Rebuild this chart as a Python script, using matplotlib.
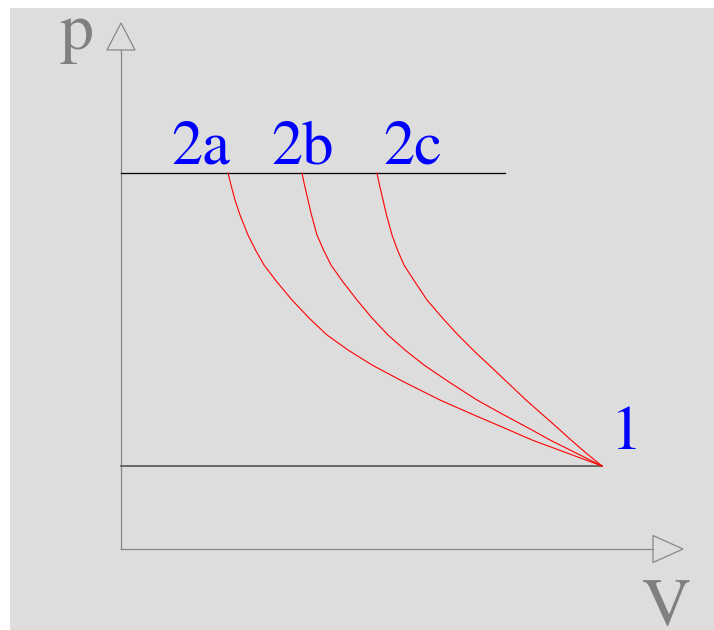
import matplotlib
matplotlib.use("Agg")
import matplotlib.pyplot as plt
from matplotlib.patches import Rectangle, Polygon

# Data (V, p in chart units; origin at the axes corner)
p_levels = [376, 364, 349, 334, 314, 299, 284, 267, 249, 231, 214, 199, 184, 167, 149, 134, 119, 109, 96, 83]
V_a = [107, 110, 114, 119, 127, 134.5, 143, 156, 171, 188, 206, 227, 251, 283, 319, 353, 388, 411, 446, 481]
V_b = [181, 183.5, 187, 190.5, 196, 202.5, 210, 222, 236, 251, 267, 284, 303, 328, 356, 383, 411, 429, 455, 481]
V_c = [256, 258.5, 262, 265.5, 271, 276.5, 283, 294, 306, 321.5, 337, 352, 368, 386, 405, 422, 439, 450, 465, 481]
p_high = 376
p_low = 83
V_high_end = 384
V_low_end = 481
state_labels = ["2a", "2b", "2c", "1"]
label_pos = [(50, 386), (150, 386), (262, 386), (489, 100)]

serif = ["Tinos", "STIXGeneral", "Libertinus Serif", "DejaVu Serif"]

fig = plt.figure(figsize=(7.14, 6.30), dpi=100)
fig.patch.set_facecolor("white")
ax = fig.add_axes([0, 0, 1, 1])
ax.set_xlim(-121, 593)
ax.set_ylim(-81, 549)
ax.axis("off")

# background panel
ax.add_patch(Rectangle((-111, -81), 704, 622, facecolor="#dddddd", edgecolor="none", zorder=0))

gray = "#888888"
# axes with hollow arrow heads
ax.plot([0, 0], [0, 499], color=gray, lw=0.9, zorder=2)
ax.plot([0, 532], [0, 0], color=gray, lw=0.9, zorder=2)
ax.add_patch(Polygon([(-14, 499), (14, 499), (0, 526)], closed=True, fill=False,
                     edgecolor=gray, lw=0.9, zorder=2))
ax.add_patch(Polygon([(532, 13.5), (532, -13.5), (562, 0)], closed=True, fill=False,
                     edgecolor=gray, lw=0.9, zorder=2))

# isobars
ax.plot([0, V_high_end], [p_high, p_high], color="black", lw=0.9, zorder=3)
ax.plot([0, V_low_end], [p_low, p_low], color="#555555", lw=1.2, zorder=3)

# process curves
for Vs in (V_a, V_b, V_c):
    ax.plot(Vs, p_levels, color="red", lw=0.8, zorder=4, solid_joinstyle="round")

for lab, (x, y) in zip(state_labels, label_pos):
    ax.text(x, y, lab, color="blue", fontsize=45, family=serif,
            ha="left", va="baseline", zorder=5)

ax.text(-61, 500, "p", color="#808080", fontsize=49, family=serif, ha="left", va="baseline")
ax.text(521, -76, "V", color="#808080", fontsize=49, family=serif, ha="left", va="baseline")

fig.savefig("out.png", dpi=100, facecolor="white")
